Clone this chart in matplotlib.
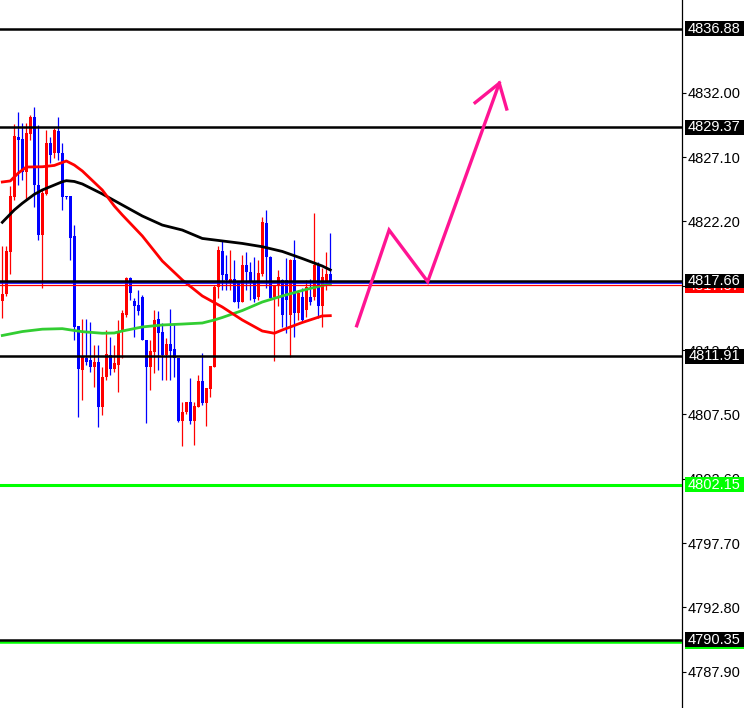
import matplotlib.pyplot as plt
import matplotlib.transforms as mtransforms
from matplotlib.patches import Rectangle
import numpy as np

plt.rcParams['font.family'] = ['Liberation Sans', 'DejaVu Sans']

# candle data, one entry per bar
opens = [4816.14, 4816.67, 4819.89, 4824.08, 4828.65, 4828.47, 4825.98, 4828.85, 4830.17, 4824.97,
         4821.16, 4824.29, 4828.19, 4827.39, 4829.08, 4827.43, 4824.08, 4824.13, 4821.09, 4814.23,
         4810.88, 4811.80, 4811.64, 4811.11, 4811.49, 4808.06, 4810.35, 4812.02, 4810.96, 4811.26,
         4813.78, 4815.07, 4817.89, 4816.14, 4815.83, 4816.44, 4813.17, 4811.11, 4812.25, 4814.77,
         4813.78, 4812.02, 4812.86, 4812.48, 4811.80, 4807.00, 4807.68, 4808.44, 4807.00, 4808.06,
         4810.04, 4808.37, 4809.43, 4811.11, 4817.20, 4819.94, 4818.19, 4817.58, 4817.79, 4817.48,
         4816.08, 4818.88, 4818.34, 4817.61, 4816.46, 4818.19, 4822.10, 4819.49, 4816.46, 4817.35,
         4817.74, 4817.74, 4815.07, 4819.26, 4815.22, 4816.46, 4815.45, 4816.46, 4816.46, 4818.88,
         4815.76, 4817.48, 4818.19]
highs = [4820.33, 4820.33, 4824.89, 4829.62, 4830.53, 4829.69, 4829.72, 4830.30, 4830.89, 4829.54,
         4824.59, 4829.16, 4828.65, 4829.29, 4830.13, 4828.15, 4824.13, 4824.13, 4821.92, 4814.23,
         4814.77, 4814.77, 4814.54, 4812.79, 4812.79, 4811.11, 4813.93, 4813.39, 4812.79, 4814.69,
         4815.45, 4817.96, 4817.96, 4816.36, 4816.97, 4816.60, 4813.17, 4813.17, 4815.45, 4815.37,
         4814.46, 4813.32, 4815.53, 4814.46, 4811.80, 4808.44, 4808.44, 4810.27, 4808.44, 4810.50,
         4812.18, 4809.51, 4811.19, 4817.35, 4820.33, 4820.71, 4819.64, 4820.02, 4819.26, 4817.61,
         4819.64, 4819.89, 4819.11, 4819.51, 4819.26, 4822.56, 4823.07, 4819.56, 4817.35, 4818.50,
         4817.80, 4819.39, 4819.33, 4820.78, 4816.97, 4817.10, 4817.74, 4817.79, 4822.86, 4819.11,
         4818.63, 4819.89, 4821.29]
lows = [4814.84, 4816.52, 4818.19, 4823.83, 4824.97, 4825.35, 4823.90, 4828.40, 4823.32, 4820.78,
        4817.15, 4824.21, 4826.65, 4827.03, 4826.87, 4823.07, 4823.90, 4819.26, 4813.17, 4807.30,
        4808.60, 4811.26, 4810.73, 4809.59, 4806.54, 4807.45, 4810.12, 4810.50, 4810.73, 4809.21,
        4811.80, 4814.92, 4816.21, 4813.39, 4815.07, 4813.17, 4806.84, 4809.36, 4810.65, 4810.88,
        4810.12, 4810.12, 4810.12, 4810.35, 4806.92, 4805.09, 4807.53, 4806.77, 4805.17, 4808.06,
        4808.22, 4806.62, 4808.82, 4811.11, 4816.36, 4816.97, 4816.97, 4816.97, 4816.06, 4815.58,
        4816.06, 4816.97, 4816.21, 4816.06, 4816.21, 4818.04, 4817.13, 4816.21, 4811.59, 4815.76,
        4814.18, 4813.68, 4811.89, 4813.37, 4814.69, 4814.54, 4814.94, 4815.83, 4816.21, 4814.84,
        4814.13, 4816.97, 4817.43]
closes = [4816.67, 4819.94, 4824.13, 4828.70, 4828.40, 4825.98, 4828.95, 4830.13, 4824.97, 4821.16,
          4824.34, 4828.19, 4827.26, 4829.16, 4827.43, 4824.08, 4824.03, 4820.96, 4814.18, 4810.96,
          4811.87, 4811.49, 4811.11, 4811.49, 4808.06, 4810.35, 4812.10, 4810.96, 4811.41, 4813.78,
          4815.22, 4817.89, 4816.75, 4815.76, 4815.37, 4813.17, 4811.11, 4812.33, 4814.69, 4813.70,
          4812.02, 4812.86, 4812.33, 4811.80, 4807.00, 4807.68, 4808.44, 4807.00, 4808.14, 4810.04,
          4808.37, 4809.51, 4811.19, 4817.20, 4820.02, 4818.12, 4817.74, 4817.81, 4816.08, 4816.08,
          4818.88, 4818.37, 4817.58, 4816.29, 4818.29, 4822.18, 4819.51, 4816.36, 4817.35, 4817.96,
          4815.07, 4816.21, 4819.26, 4815.22, 4816.75, 4814.69, 4817.18, 4816.08, 4818.88, 4815.76,
          4817.99, 4818.19, 4817.61]

# moving averages, sampled at some bars
ma_red_bars = [0, 2, 4, 6, 10, 13, 16, 18, 20, 25, 28, 30, 35, 40, 45, 50, 55, 60, 65, 68, 70, 75, 80, 82]
ma_red = [4825.20, 4825.28, 4825.88, 4826.34, 4826.36, 4826.46, 4826.80, 4826.49, 4826.04, 4824.59,
          4823.37, 4822.69, 4821.09, 4819.18, 4817.74, 4816.52, 4815.68, 4814.69, 4813.85, 4813.68,
          4813.93, 4814.50, 4815.00, 4815.02]
ma_black_bars = [0, 3, 5, 8, 10, 15, 16, 18, 20, 25, 30, 35, 40, 45, 50, 55, 60, 65, 70, 75, 80, 82]
ma_black = [4822.13, 4823.07, 4823.58, 4824.26, 4824.59, 4825.22, 4825.30, 4825.24, 4825.05, 4824.29,
            4823.45, 4822.61, 4821.92, 4821.54, 4820.90, 4820.71, 4820.52, 4820.27, 4819.91, 4819.37,
            4818.80, 4818.50]
ma_green_bars = [0, 5, 10, 15, 18, 20, 25, 28, 30, 35, 40, 45, 50, 53, 55, 60, 65, 70, 75, 80, 82]
ma_green = [4813.51, 4813.81, 4813.99, 4814.03, 4813.89, 4813.80, 4813.68, 4813.70, 4813.85, 4814.16,
            4814.31, 4814.38, 4814.46, 4814.69, 4814.88, 4815.41, 4816.06, 4816.52, 4816.94, 4817.32,
            4817.43]

# horizontal levels
black_levels = [4836.88, 4829.37, 4817.66, 4811.91, 4790.35]
green_levels = [4802.15, 4790.20]
blue_level = 4817.51
red_level = 4817.37

# price scale ticks
yticks = [4832.00, 4827.10, 4822.20, 4817.30, 4812.40, 4807.50, 4802.60, 4797.70, 4792.80, 4787.90]

# hand drawn pink zigzag arrow (bar, price)
zig_x = [88.6, 96.7, 106.35, 124.25]
zig_y = [4814.25, 4821.54, 4817.61, 4832.72]
head_x = [118.2, 124.25, 126.1]
head_y = [4831.24, 4832.72, 4830.76]

fig = plt.figure(figsize=(7.54, 7.08), dpi=100)
ax = fig.add_axes([0, 0, 682 / 754, 1])

o = np.array(opens); h = np.array(highs); l = np.array(lows); c = np.array(closes)
x = np.arange(len(o))
cols = np.where(c >= o, '#FF0000', '#0000FF')

ax.vlines(x, l, h, colors=cols, lw=0.9, zorder=2)
body = np.maximum(np.abs(c - o), 0.08)
ax.bar(x, body, bottom=np.minimum(o, c), width=0.78, color=cols, lw=0, zorder=2.1)

ax.plot(ma_green_bars, ma_green, color='#32CD32', lw=2.0, zorder=3)
ax.plot(ma_black_bars, ma_black, color='black', lw=2.0, zorder=3)
ax.plot(ma_red_bars, ma_red, color='#FF0000', lw=2.0, zorder=3)

for p in black_levels:
    ax.axhline(p, color='black', lw=1.8, zorder=4)
ax.axhline(green_levels[0], color='#00FF00', lw=2.2, zorder=4)
ax.axhline(green_levels[1], color='#00FF00', lw=1.8, zorder=3.9)
ax.axhline(blue_level, color='#0000FF', lw=1.2, zorder=3.9)
ax.axhline(red_level, color='#FF0000', lw=0.9, zorder=3.9)

ax.plot(zig_x, zig_y, color='#FF1493', lw=2.4, zorder=6, solid_joinstyle='miter')
ax.plot(head_x, head_y, color='#FF1493', lw=2.4, zorder=6, solid_joinstyle='miter')

ax.set_xlim(-0.575, 169.925)
ax.set_ylim(4785.14, 4839.06)
ax.set_xticks([])
ax.yaxis.tick_right()
ax.set_yticks(yticks)
ax.set_yticklabels(['%.2f' % t for t in yticks])
ax.tick_params(axis='y', direction='out', length=3, width=0.8, pad=1, labelsize=10.5)
for s in ['top', 'left', 'bottom']:
    ax.spines[s].set_visible(False)
ax.spines['right'].set_linewidth(0.9)

# price labels on the scale
blend = mtransforms.blended_transform_factory(ax.transAxes, ax.transData)
labels = [
    (4836.88, '4836.88', 'black', 'white'),
    (4829.37, '4829.37', 'black', 'white'),
    (4817.30, '4817.37', '#FF0000', 'white'),
    (4817.66, '4817.66', 'black', 'white'),
    (4811.91, '4811.91', 'black', 'white'),
    (4802.15, '4802.15', '#00FF00', 'white'),
    (4790.18, '4790.20', '#00FF00', 'white'),
    (4790.35, '4790.35', 'black', 'white'),
]
bx0 = 685 / 682
bw = 59 / 682
z = 10
for p, txt, fc, tc in labels:
    ax.add_patch(Rectangle((bx0, p - 0.57), bw, 1.14, transform=blend, clip_on=False,
                           facecolor=fc, edgecolor='none', zorder=z))
    ax.text(bx0 + bw / 2, p, txt, transform=blend, ha='center', va='center',
            color=tc, fontsize=10.5, clip_on=False, zorder=z + 1)
    z += 2

fig.savefig('out.png', dpi=100, facecolor='white')
